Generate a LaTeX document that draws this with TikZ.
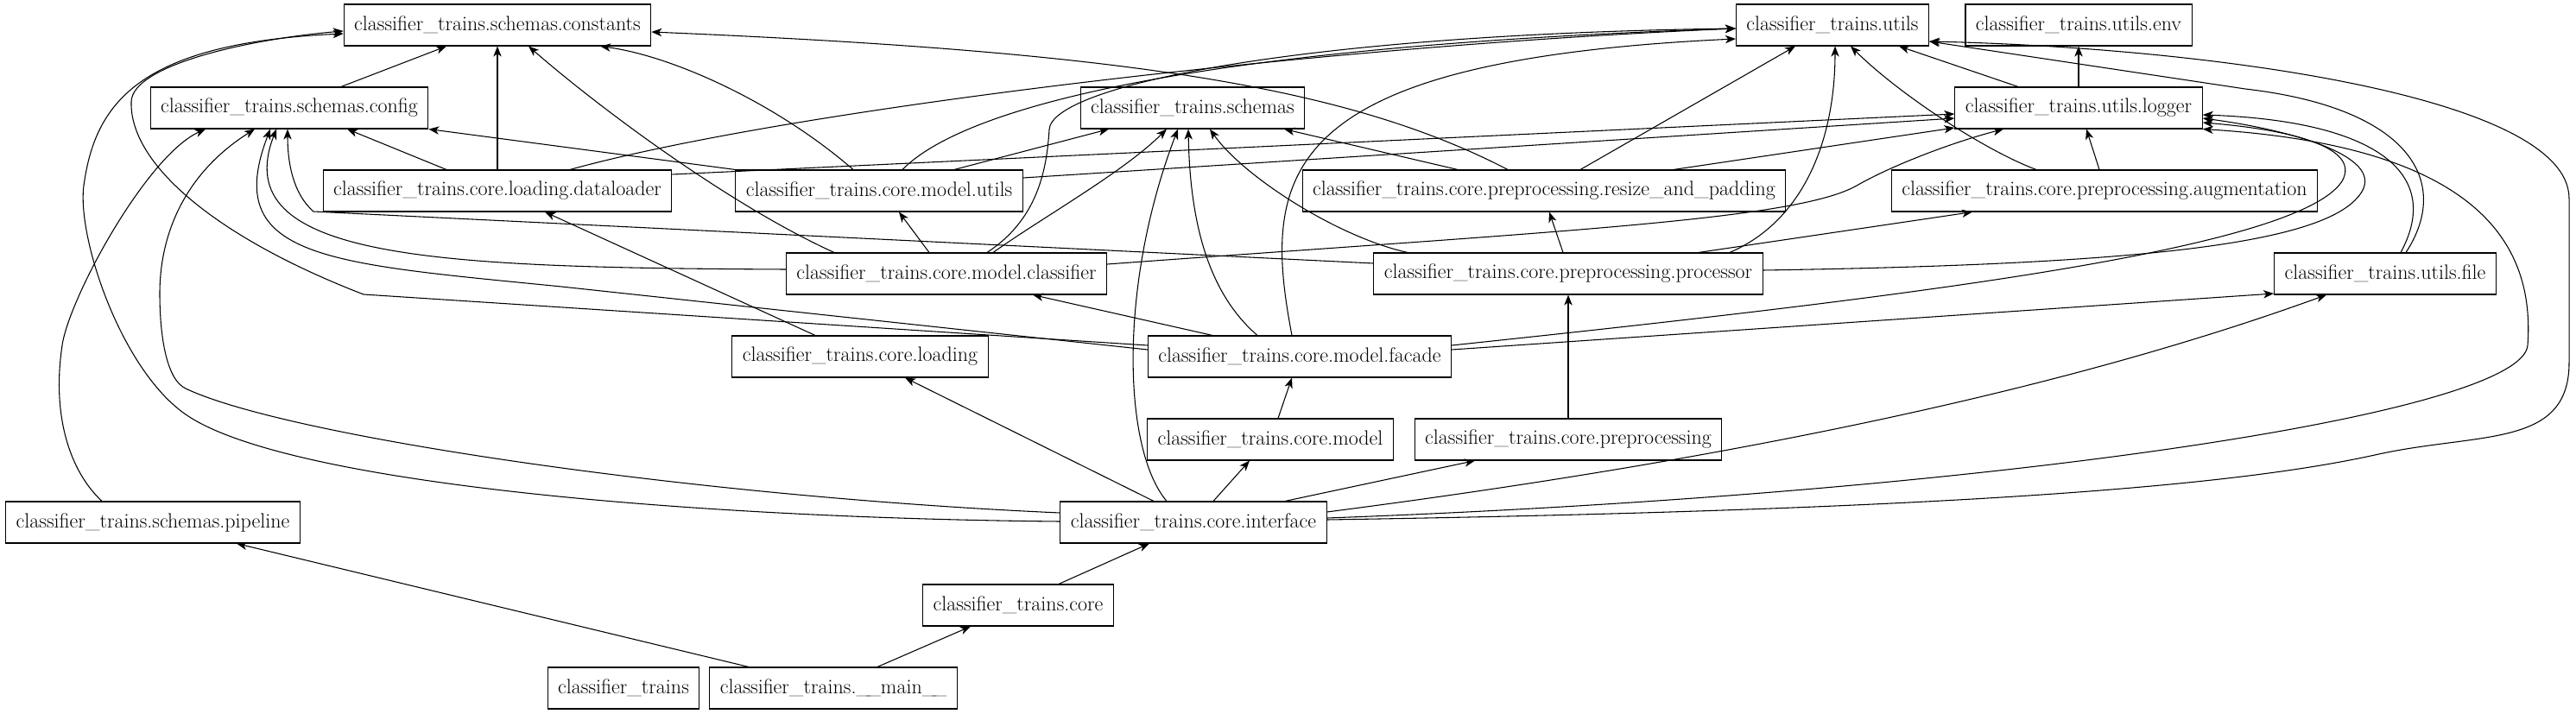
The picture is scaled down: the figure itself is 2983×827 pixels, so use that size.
\documentclass[tikz,border=0pt]{standalone}
\usepackage{tikz}
\usetikzlibrary{arrows.meta, calc}

\tikzset{
  mod/.style={draw, rectangle, minimum height=36pt, inner xsep=9pt, inner ysep=0pt,
    font=\fontsize{18}{21}\selectfont},
}

\begin{document}
\begin{tikzpicture}[x=0.75pt, y=0.75pt, line width=0.8pt,
    >={Stealth[length=9pt, width=7pt, inset=2.5pt]}]
        \useasboundingbox (0,0) rectangle (2983,-827);

        \node[mod] (const) at (576,-29) {classifier\_trains.schemas.constants};
        \node[mod] (utils) at (2122,-29) {classifier\_trains.utils};
        \node[mod] (env) at (2407,-29) {classifier\_trains.utils.env};
        \node[mod] (config) at (335,-125) {classifier\_trains.schemas.config};
        \node[mod] (schemas) at (1381,-125) {classifier\_trains.schemas};
        \node[mod] (logger) at (2407,-125) {classifier\_trains.utils.logger};
        \node[mod] (loader) at (576,-221) {classifier\_trains.core.loading.dataloader};
        \node[mod] (mutils) at (1018,-221) {classifier\_trains.core.model.utils};
        \node[mod] (resize) at (1788,-221) {classifier\_trains.core.preprocessing.resize\_and\_padding};
        \node[mod] (augment) at (2437,-221) {classifier\_trains.core.preprocessing.augmentation};
        \node[mod] (classif) at (1096,-317) {classifier\_trains.core.model.classifier};
        \node[mod] (proc) at (1816,-317) {classifier\_trains.core.preprocessing.processor};
        \node[mod] (file) at (2762,-317) {classifier\_trains.utils.file};
        \node[mod] (loading) at (996,-413) {classifier\_trains.core.loading};
        \node[mod] (facade) at (1505,-413) {classifier\_trains.core.model.facade};
        \node[mod] (model) at (1471,-509) {classifier\_trains.core.model};
        \node[mod] (preproc) at (1816,-509) {classifier\_trains.core.preprocessing};
        \node[mod] (pipeline) at (177,-605) {classifier\_trains.schemas.pipeline};
        \node[mod] (iface) at (1382,-605) {classifier\_trains.core.interface};
        \node[mod] (core) at (1179,-701) {classifier\_trains.core};
        \node[mod] (pkg) at (722,-797) {classifier\_trains};
        \node[mod] (main) at (965,-797) {classifier\_trains.\_\kern-.2em\_main\_\kern-.2em\_};

        % schemas.constants
        \draw[->] ($(config.north)+(60,0)$) -- ($(const.south)+(-59,0)$);
        \draw[->] (loader.north) -- (const.south);
        \draw[->] ($(mutils.north)+(-30,0)$) .. controls (900,-120) and (780,-65) .. ($(const.south)+(119,0)$);
        \draw[->] ($(classif.north)+(-130,0)$) .. controls (850,-240) and (700,-130) .. ($(const.south)+(36,0)$);
        \draw[->] ($(resize.north)+(-42,0)$) .. controls (1560,-100) and (1300,-60) .. ($(const.east)+(0,-8)$);
        \draw[->] ($(facade.west)+(0,13)$) -- (421,-341) .. controls (250,-275) and (150,-190) .. (152,-118)
            .. controls (153,-75) and (290,-45) .. ($(const.west)+(0,-7)$);
        \draw[->] ($(iface.west)+(0,1)$) .. controls (800,-600) and (330,-560) .. (215,-480)
            .. controls (140,-428) and (89,-275) .. (97,-215)
            .. controls (110,-120) and (160,-50) .. ($(const.west)+(0,-10)$);

        % schemas.config
        \draw[->] ($(loader.north)+(-59,0)$) -- ($(config.south)+(67,0)$);
        \draw[->] (mutils.north west) -- (config.south east);
        \draw[->] ($(classif.west)+(0,5)$) .. controls (500,-310) and (262,-300) .. ($(config.south)+(-15,0)$);
        \draw[->] ($(facade.west)+(0,8)$) -- (650,-332) .. controls (380,-305) and (255,-300) .. ($(config.south)+(-22,0)$);
        \draw[->] ($(proc.west)+(0,12)$) -- (363,-245) .. controls (340,-225) and (333,-190) .. ($(config.south)+(-2,0)$);
        \draw[->] ($(iface.west)+(0,11)$) .. controls (800,-575) and (330,-505) .. (215,-450)
            .. controls (193,-440) and (185,-390) .. (185,-340)
            .. controls (185,-270) and (215,-200) .. ($(config.south)+(-40,0)$);
        \draw[->] ($(pipeline.north)+(-59,0)$) .. controls (80,-545) and (60,-480) .. (72,-400)
            .. controls (80,-345) and (170,-180) .. ($(config.south)+(-97,0)$);

        % schemas
        \draw[->] ($(mutils.north)+(87,0)$) -- ($(schemas.south)+(-97,0)$);
        \draw[->] ($(classif.north)+(54,0)$) .. controls (1210,-250) and (1300,-200) .. ($(schemas.south)+(-30,0)$);
        \draw[->] ($(iface.north)+(-31,0)$) .. controls (1300,-520) and (1295,-330) .. ($(schemas.south)+(-17,0)$);
        \draw[->] ($(facade.north)+(-49,0)$) .. controls (1400,-340) and (1378,-260) .. ($(schemas.south)+(-5,0)$);
        \draw[->] ($(proc.north)+(-186,0)$) .. controls (1550,-275) and (1440,-205) .. ($(schemas.south)+(20,0)$);
        \draw[->] ($(resize.north)+(-100,0)$) -- ($(schemas.south)+(106,0)$);

        % utils
        \draw[->] ($(loader.north)+(84,0)$) .. controls (900,-130) and (1500,-55) .. ($(utils.west)+(0,-4)$);
        \draw[->] ($(mutils.north)+(27,0)$) .. controls (1110,-130) and (1350,-55) .. ($(utils.west)+(0,-4)$);
        \draw[->] ($(classif.north)+(47,0)$) .. controls (1200,-255) and (1212,-200) .. (1215,-150)
            .. controls (1218,-100) and (1500,-40) .. ($(utils.west)+(0,-4)$);
        \draw[->] ($(facade.north)+(-9,0)$) .. controls (1460,-200) and (1480,-70) .. ($(utils.west)+(0,-16)$);
        \draw[->] ($(resize.north)+(42,0)$) -- ($(utils.south)+(-43,0)$);
        \draw[->] ($(proc.north)+(187,0)$) .. controls (2090,-255) and (2125,-160) .. ($(utils.south)+(3,0)$);
        \draw[->] ($(augment.north)+(-79,0)$) .. controls (2300,-175) and (2200,-110) .. ($(utils.south)+(21,0)$);
        \draw[->] ($(logger.north)+(-70,0)$) -- ($(utils.south)+(77,0)$);
        \draw[->] ($(file.north)+(24,0)$) .. controls (2840,-210) and (2790,-125) .. (2600,-103) -- ($(utils.east)+(0,-19)$);
        \draw[->] ($(iface.east)+(0,3)$) .. controls (2300,-590) and (2600,-560) .. (2750,-527)
            .. controls (2870,-500) and (2975,-520) .. (2975,-420) -- (2975,-230)
            .. controls (2975,-110) and (2550,-55) .. ($(utils.east)+(0,-19)$);

        % utils.env
        \draw[->] (logger.north) -- (env.south);

        % utils.logger
        \draw[->] ($(loader.east)+(0,19)$) -- ($(logger.west)+(0,-7)$);
        \draw[->] ($(mutils.east)+(0,15)$) -- ($(logger.west)+(0,-12)$);
        \draw[->] ($(resize.north)+(150,0)$) -- ($(logger.west)+(0,-23)$);
        \draw[->] ($(classif.east)+(0,11)$) .. controls (1800,-268) and (2080,-255) .. (2150,-215)
            .. controls (2190,-192) and (2260,-165) .. ($(logger.south)+(-87,0)$);
        \draw[->] ($(augment.north)+(-6,0)$) -- ($(logger.south)+(9,0)$);
        \draw[->] ($(proc.east)+(0,4)$) .. controls (2500,-306) and (2700,-280) .. (2735,-222)
            .. controls (2760,-180) and (2650,-150) .. ($(logger.east)+(0,-12)$);
        \draw[->] ($(facade.east)+(0,13)$) .. controls (2200,-345) and (2660,-290) .. (2712,-210)
            .. controls (2735,-170) and (2650,-150) .. ($(logger.east)+(0,-17)$);
        \draw[->] ($(file.north)+(18,0)$) .. controls (2830,-200) and (2750,-140) .. ($(logger.east)+(0,-8)$);
        \draw[->] ($(iface.east)+(0,5)$) .. controls (2300,-572) and (2920,-480) .. (2927,-400)
            .. controls (2935,-290) and (2880,-170) .. (logger.south east);

        % core.model, core.preprocessing
        \draw[->] ($(classif.north)+(-20,0)$) -- ($(mutils.south)+(23,0)$);
        \draw[->] ($(facade.north)+(-101,0)$) -- ($(classif.south)+(100,0)$);
        \draw[->] ($(model.north)+(9,0)$) -- ($(facade.south)+(-9,0)$);
        \draw[->] ($(proc.north)+(-6,0)$) -- ($(resize.south)+(6,0)$);
        \draw[->] ($(proc.north)+(151,0)$) -- ($(augment.south)+(-153,0)$);
        \draw[->] (preproc.north) -- (proc.south);
        \draw[->] ($(loading.north)+(-52,0)$) -- ($(loader.south)+(55,0)$);

        % utils.file
        \draw[->] ($(facade.east)+(0,8)$) -- ($(file.west)+(0,-23)$);
        \draw[->] ($(iface.east)+(0,12)$) .. controls (2100,-520) and (2450,-430) .. ($(file.south)+(-68,0)$);

        % core.interface
        \draw[->] ($(iface.north)+(-46,0)$) -- ($(loading.south)+(52,0)$);
        \draw[->] ($(iface.north)+(23,0)$) -- ($(model.south)+(-24,0)$);
        \draw[->] ($(iface.north)+(106,0)$) -- ($(preproc.south)+(-108,0)$);
        \draw[->] ($(core.north)+(47,0)$) -- ($(iface.south)+(-51,0)$);
        \draw[->] ($(main.north)+(51,0)$) -- ($(core.south)+(-55,0)$);
        \draw[->] ($(main.north)+(-98,0)$) -- ($(pipeline.south)+(97,0)$);
    \end{tikzpicture}
\end{document}
